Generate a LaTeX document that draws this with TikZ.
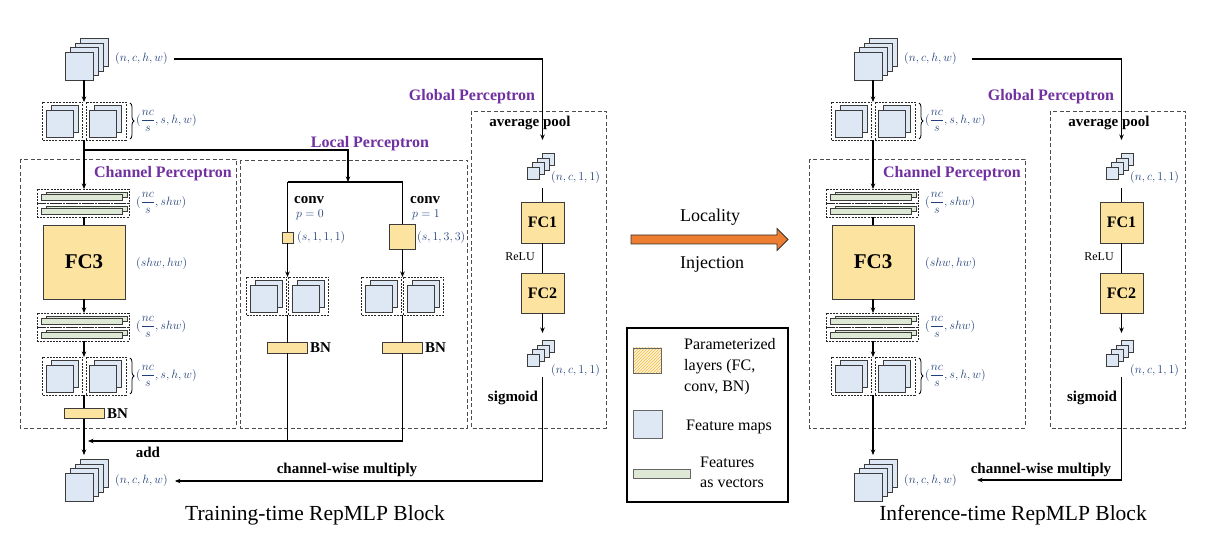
\documentclass[tikz,border=0pt]{standalone}
\usepackage{amsmath}
\usepackage{fontspec}
\setmainfont{Liberation Serif}
\usetikzlibrary{arrows.meta,patterns,decorations.pathreplacing,calc}
\definecolor{fmapblue}{HTML}{DEE8F4}
\definecolor{vecgreen}{HTML}{DDE9D5}
\definecolor{paryel}{HTML}{FCE3A0}
\definecolor{purp}{HTML}{7030A0}
\definecolor{lblue}{HTML}{22407A}
\definecolor{arrowor}{HTML}{ED7D31}
\definecolor{edgeg}{HTML}{3C3C3C}
\definecolor{hatchy}{HTML}{F4B942}
\definecolor{lighty}{HTML}{FFF4D6}
\newcommand\fmstack[3]{%
  \foreach \k in {3,2,1}{\node[fmap,minimum size=28pt] (#1-\k) at ({#2+5*\k},{#3-4.5*\k}) {};}
  \node[fmap,minimum size=28pt] (#1) at (#2,#3) {};}
\newcommand\pairbx[3]{%
  \node[pdash,minimum width=40pt,minimum height=38pt] (#1) at (#2,#3) {};
  \node[fmap,minimum size=27pt] (#1-b) at ({#2+2},{#3-2.5}) {};
  \node[fmap,minimum size=27pt] (#1-f) at ({#2-3},{#3+2.5}) {};}
\newcommand\vecbx[3]{%
  \node[pdash,minimum width=92pt,minimum height=14pt] (#1) at (#2,#3) {};
  \node[vbar] (#1-b) at ({#2+3.5},{#3-1}) {};
  \node[vbar] (#1-f) at ({#2-1},{#3+1.5}) {};}
\newcommand\cubes[3]{%
  \foreach \k in {3,2,1}{\node[fmap,line width=0.8pt,minimum size=12pt] (#1-\k) at ({#2+5*\k},{#3-4.5*\k}) {};}
  \node[fmap,line width=0.8pt,minimum size=12pt] (#1) at (#2,#3) {};}
\begin{document}
\begin{tikzpicture}[x=1pt,y=-1pt,
  fmap/.style={draw=edgeg,fill=fmapblue,line width=0.9pt,inner sep=0pt,outer sep=0pt},
  pdash/.style={draw=black!85,dash pattern=on 2pt off 1.2pt,line width=0.8pt,inner sep=0pt,outer sep=0pt},
  vbar/.style={draw=edgeg,fill=vecgreen,line width=0.8pt,inner sep=0pt,outer sep=0pt,minimum width=81pt,minimum height=5.5pt},
  param/.style={draw=edgeg,fill=paryel,line width=0.9pt,inner sep=0pt,outer sep=0pt},
  grp/.style={draw=black!70,dash pattern=on 4pt off 2.5pt,line width=0.9pt},
  ln/.style={line width=1.1pt},
  arr/.style={line width=1.1pt,-{Stealth[length=5.5pt,width=4.5pt]}},
  bl/.style={font=\fontsize{15}{18}\selectfont\bfseries,inner sep=0pt},
  ttl/.style={font=\fontsize{16}{19}\selectfont\bfseries,text=purp,inner sep=0pt},
  ml/.style={font=\fontsize{12}{14}\selectfont,text=lblue,inner sep=0pt,anchor=west},
  brc/.style={decorate,decoration={brace,amplitude=4pt},line width=0.8pt},
  fcbig/.style={param,font=\fontsize{21}{24}\selectfont\bfseries},
  fcsm/.style={param,minimum width=43pt,minimum height=41pt,font=\fontsize{16}{19}\selectfont\bfseries},
  bnbar/.style={param,minimum width=40pt,minimum height=10.5pt},
  lgt/.style={font=\fontsize{16}{21}\selectfont,inner sep=0pt,anchor=west,align=left}]
\useasboundingbox (0,0) rectangle (1211,534);

%================ LEFT: training-time =================
\fmstack{inL}{79}{66}
\node[ml] (inLlab) at (115,59) {$(n,c,h,w)$};
\pairbx{sAL1}{62.5}{121}
\pairbx{sAL2}{106}{121}
\draw[brc] (130,103) -- (130,139);
\node[ml] (sALlab) at (136,121) {$(\dfrac{nc}{s},s,h,w)$};
\coordinate (jL) at (84,150);

\draw[grp] (20,159) rectangle (236,428);
\node[ttl] (cpL) at (163,174) {Channel Perceptron};
\vecbx{vAL1}{83}{196}
\vecbx{vAL2}{83}{210}
\node[ml] (vALlab) at (136,203) {$(\dfrac{nc}{s},shw)$};
\node[fcbig,minimum width=82pt,minimum height=74pt] (fc3L) at (84,262) {FC3};
\node[ml] (fc3Llab) at (136,264) {$(shw,hw)$};
\vecbx{vBL1}{83}{320}
\vecbx{vBL2}{83}{334}
\node[ml] (vBLlab) at (136,327) {$(\dfrac{nc}{s},shw)$};
\pairbx{sBL1}{62.5}{376}
\pairbx{sBL2}{106}{376}
\draw[brc] (130,358) -- (130,394);
\node[ml] (sBLlab) at (136,376) {$(\dfrac{nc}{s},s,h,w)$};
\node[bnbar] (bnL) at (84,413.5) {};
\node[bl,anchor=west] (bnLt) at (107,414) {BN};
\fmstack{outL}{79}{487}
\node[ml] (outLlab) at (115,481) {$(n,c,h,w)$};
\node[bl] (addt) at (148,452) {add};
\coordinate (oLin) at (84,455);
\coordinate (addL) at (88,441);

\draw[arr] (inL.south -| jL) -- (sAL1.north -| jL);
\draw[arr] (sAL1.south -| jL) -- (vAL1.north -| jL);
\draw[ln] (vAL2.south -| jL) -- (fc3L.north);
\draw[arr] (fc3L.south) -- (vBL1.north -| fc3L);
\draw[arr] (vBL2.south -| jL) -- (sBL1.north -| jL);
\draw[ln] (sBL1.south -| jL) -- (bnL.north);
\draw[arr] (bnL.south) -- (oLin);

% Local perceptron
\draw[grp] (240,160) rectangle (467,428);
\node[ttl] (lpt) at (370,144) {Local Perceptron};
\coordinate (lpB) at (348,182);
\coordinate (lpBl) at (287.5,182);
\coordinate (lpBr) at (402.5,182);
\draw[arr] (jL) -| (lpB);
\draw[ln] (lpBl) -- (lpBr);
\node[bl,anchor=west] (cv0) at (294,200) {conv};
\node[ml] (p0) at (296,215) {$p=0$};
\node[param,minimum size=11pt] (cvS) at (287.5,237.5) {};
\node[ml] (cvSlab) at (297,238) {$(s,1,1,1)$};
\node[bl,anchor=west] (cv1) at (410,200) {conv};
\node[ml] (p1) at (412,215) {$p=1$};
\node[param,minimum width=26pt,minimum height=25pt] (cvB) at (402.5,237) {};
\node[ml] (cvBlab) at (417,238) {$(s,1,3,3)$};
\pairbx{lpL1}{266.5}{296}
\pairbx{lpL2}{308.5}{296}
\pairbx{lpR1}{381.5}{296}
\pairbx{lpR2}{423.5}{296}
\node[bnbar] (bnLL) at (287.5,348) {};
\node[bl,anchor=west] (bnLLt) at (310,348) {BN};
\node[bnbar] (bnLR) at (402.5,348) {};
\node[bl,anchor=west] (bnLRt) at (425,348) {BN};
\draw[ln] (lpBl) -- (cvS.north);
\draw[arr] (cvS.south) -- (lpBl |- lpL1.north);
\draw[ln] (lpBr) -- (cvB.north);
\draw[arr] (cvB.south) -- (lpBr |- lpR1.north);
\draw[ln] (lpBl |- lpL1.south) -- (bnLL.north);
\draw[ln] (bnLL.south) -- (bnLL.south |- addL);
\draw[ln] (lpBr |- lpR1.south) -- (bnLR.north);
\draw[arr] (bnLR.south) |- (addL);

% Global perceptron
\draw[grp] (471,111) rectangle (606,428);
\node[ttl] (gpt) at (472,97) {Global Perceptron};
\coordinate (gAL) at (542.5,140);
\draw[arr] ([xshift=6pt]inLlab.east) -| (gAL);
\node[bl] (avgL) at (530,123) {average pool};
\cubes{gc1L}{533}{173}
\node[ml] (gc1Llab) at (551,178) {$(n,c,1,1)$};
\node[fcsm] (fc1L) at (542.5,222.5) {FC1};
\node[font=\fontsize{12}{14}\selectfont,inner sep=0pt] (reluL) at (520,257) {ReLU};
\node[fcsm,minimum height=40pt] (fc2L) at (542.5,293) {FC2};
\cubes{gc2L}{533}{360}
\node[ml] (gc2Llab) at (551,371) {$(n,c,1,1)$};
\node[bl] (sigL) at (513,398) {sigmoid};
\coordinate (gtopL) at (542.5,188);
\coordinate (gbotL) at (542.5,333);
\coordinate (sgL) at (542.5,377);
\draw[ln] (gtopL) -- (fc1L.north);
\draw[ln] (fc1L.south) -- (fc2L.north);
\draw[arr] (fc2L.south) -- (gbotL);
\draw[arr] (sgL) |- ([xshift=7pt]outLlab.east);
\node[bl] (cwmL) at (347,470) {channel-wise multiply};

\node[font=\fontsize{21.5}{25}\selectfont,inner sep=0pt] (ttlL) at (315,515) {Training-time RepMLP Block};

%================ MIDDLE =================
\draw[fill=arrowor,draw=black!80,line width=0.8pt] (631,235) -- (777,235) -- (777,228.5) -- (788,239.5) -- (777,250.5) -- (777,244) -- (631,244) -- cycle;
\node[font=\fontsize{18}{21}\selectfont,inner sep=0pt] (loc) at (710,217) {Locality};
\node[font=\fontsize{18}{21}\selectfont,inner sep=0pt] (inj) at (712,264) {Injection};

% legend
\draw[line width=1.4pt] (627,328) rectangle (788,502);
\node[draw=black!60,line width=0.8pt,minimum width=28pt,minimum height=25pt,inner sep=0pt,
  preaction={fill=lighty},pattern={north east lines},pattern color=hatchy] (lg1) at (647,360.5) {};
\node[lgt] (lg1t) at (684,367) {Parameterized\\layers (FC,\\conv, BN)};
\node[fmap,draw=black!60,minimum width=29pt,minimum height=28pt] (lg2) at (647.5,424) {};
\node[lgt] (lg2t) at (686,427) {Feature maps};
\node[draw=black!60,fill=vecgreen,line width=0.8pt,minimum width=57pt,minimum height=9pt,inner sep=0pt] (lg3) at (661.5,473.5) {};
\node[lgt,font=\fontsize{16}{20}\selectfont] (lg3t) at (700,472) {Features\\as vectors};

%================ RIGHT: inference-time =================
\fmstack{inR}{868}{66}
\node[ml] (inRlab) at (904,59) {$(n,c,h,w)$};
\pairbx{sAR1}{851.5}{121}
\pairbx{sAR2}{895}{121}
\draw[brc] (919,103) -- (919,139);
\node[ml] (sARlab) at (925,121) {$(\dfrac{nc}{s},s,h,w)$};
\coordinate (jR) at (873,150);

\draw[grp] (809,159) rectangle (1025,428);
\node[ttl] (cpR) at (952,174) {Channel Perceptron};
\vecbx{vAR1}{872}{196}
\vecbx{vAR2}{872}{210}
\node[ml] (vARlab) at (925,203) {$(\dfrac{nc}{s},shw)$};
\node[fcbig,minimum width=82pt,minimum height=74pt] (fc3R) at (873,262) {FC3};
\node[ml] (fc3Rlab) at (925,264) {$(shw,hw)$};
\vecbx{vBR1}{872}{320}
\vecbx{vBR2}{872}{334}
\node[ml] (vBRlab) at (925,327) {$(\dfrac{nc}{s},shw)$};
\pairbx{sBR1}{851.5}{376}
\pairbx{sBR2}{895}{376}
\draw[brc] (919,358) -- (919,394);
\node[ml] (sBRlab) at (925,376) {$(\dfrac{nc}{s},s,h,w)$};
\fmstack{outR}{868}{487}
\node[ml] (outRlab) at (904,481) {$(n,c,h,w)$};
\coordinate (oRin) at (873,455);

\draw[arr] (inR.south -| jR) -- (sAR1.north -| jR);
\draw[arr] (sAR1.south -| jR) -- (vAR1.north -| jR);
\draw[ln] (vAR2.south -| jR) -- (fc3R.north);
\draw[arr] (fc3R.south) -- (vBR1.north -| fc3R);
\draw[arr] (vBR2.south -| jR) -- (sBR1.north -| jR);
\draw[arr] (sBR1.south -| jR) -- (oRin);

\draw[grp] (1050,111) rectangle (1185,428);
\node[ttl] (gptR) at (1051,97) {Global Perceptron};
\coordinate (gAR) at (1121.5,140);
\draw[arr] ([xshift=15pt]inRlab.east) -| (gAR);
\node[bl] (avgR) at (1109,123) {average pool};
\cubes{gc1R}{1112}{173}
\node[ml] (gc1Rlab) at (1130,178) {$(n,c,1,1)$};
\node[fcsm] (fc1R) at (1121.5,222.5) {FC1};
\node[font=\fontsize{12}{14}\selectfont,inner sep=0pt] (reluR) at (1099,257) {ReLU};
\node[fcsm,minimum height=40pt] (fc2R) at (1121.5,293) {FC2};
\cubes{gc2R}{1112}{360}
\node[ml] (gc2Rlab) at (1130,371) {$(n,c,1,1)$};
\node[bl] (sigR) at (1092,398) {sigmoid};
\coordinate (gtopR) at (1121.5,188);
\coordinate (gbotR) at (1121.5,333);
\coordinate (sgR) at (1121.5,377);
\coordinate (cwmRend) at (977,480);
\draw[ln] (gtopR) -- (fc1R.north);
\draw[ln] (fc1R.south) -- (fc2R.north);
\draw[arr] (fc2R.south) -- (gbotR);
\draw[arr] (sgR) |- (cwmRend);
\node[bl] (cwmR) at (1041,470) {channel-wise multiply};

\node[font=\fontsize{21.5}{25}\selectfont,inner sep=0pt] (ttlR) at (1013,515) {Inference-time RepMLP Block};
\end{tikzpicture}
\end{document}
